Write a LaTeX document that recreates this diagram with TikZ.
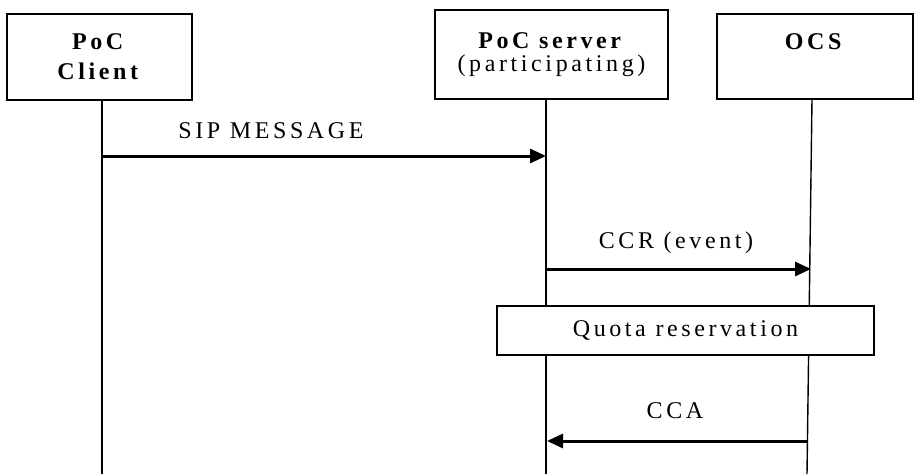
\documentclass[tikz,border=0pt]{standalone}
\usepackage{fontspec}
\setmainfont{Liberation Serif}[LetterSpace=15]
\usetikzlibrary{arrows.meta}

\tikzset{
	entity/.style={draw, line width=1.4pt, inner sep=0pt, align=center,
		font=\fontsize{24}{30}\selectfont},
	lifeline/.style={line width=1.4pt},
	msg/.style={line width=3pt, -{Triangle[length=16pt,width=14pt]}},
	msglabel/.style={anchor=base, font=\fontsize{24}{30}\selectfont}
}

\begin{document}
\begin{tikzpicture}[x=1pt,y=-1pt]
	\useasboundingbox (0,0) rectangle (915,474);
	% entities
	\node [entity, minimum width=185pt, minimum height=86pt] (client) at (99.5,57) {\textbf{PoC}\\\textbf{Client}};
	\node [entity, minimum width=233pt, minimum height=89pt] (server) at (551.5,54.5) {\textbf{PoC server}\\[-7pt](participating)};
	\node [entity, minimum width=196pt, minimum height=85pt] (ocs) at (815,56.5) {\textbf{OCS}\\\mbox{}};

	% lifelines
	\coordinate (clientend) at (102,474);
	\coordinate (serverend) at (546,474);
	\coordinate (ocsend) at (807,474);
	\draw [lifeline] (client.south -| clientend) -- (clientend);
	\draw [lifeline] (server.south -| serverend) -- (serverend);
	\draw [lifeline] (812,99) -- (ocsend);

	% quota
	\node [entity, fill=white, minimum width=377pt, minimum height=49pt] (quota) at (685.5,330.5) {Quota reservation};

	% SIP MESSAGE
	\coordinate (sipfrom) at (102,156);
	\coordinate (sipto) at (546,156);
	\draw [msg] (sipfrom) -- (sipto);
	\node [msglabel] (siplabel) at (271,138) {SIP MESSAGE};
	% CCR
	\coordinate (ccrfrom) at (546,269);
	\coordinate (ccrto) at (811,269);
	\draw [msg] (ccrfrom) -- (ccrto);
	\node [msglabel] (ccrlabel) at (676,248) {CCR (event)};
	% CCA
	\coordinate (ccafrom) at (808,441);
	\coordinate (ccato) at (547,441);
	\draw [msg] (ccafrom) -- (ccato);
	\node [msglabel] (ccalabel) at (675,418) {CCA};
\end{tikzpicture}
\end{document}
